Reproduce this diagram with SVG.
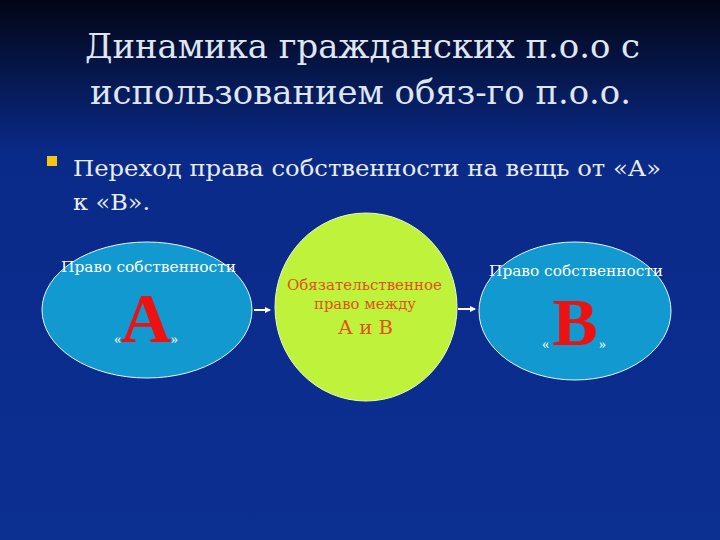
<svg xmlns="http://www.w3.org/2000/svg" width="720" height="540" viewBox="0 0 720 540">
<defs>
<linearGradient id="bg" x1="0" y1="0" x2="0" y2="1">
<stop offset="0" stop-color="#020514"/>
<stop offset="0.28" stop-color="#0a2a88"/>
<stop offset="1" stop-color="#0c2f92"/>
</linearGradient>
<marker id="ah" markerWidth="6" markerHeight="6" refX="5" refY="3" orient="auto" markerUnits="userSpaceOnUse">
<path d="M0,0 L6,3 L0,6 z" fill="#ffffff"/>
</marker>
<style>
.t{font-family:"DejaVu Serif","Liberation Serif",serif;}
.lbl{font-family:"DejaVu Serif","Liberation Serif",serif;font-size:14px;fill:#ffffff;}
.big{font-family:"Liberation Serif","DejaVu Serif",serif;font-weight:bold;fill:#ee1111;text-anchor:middle;}
.q{font-family:"Liberation Serif",serif;font-size:14px;fill:#ffffff;}
.g{font-family:"DejaVu Serif","Liberation Serif",serif;fill:#e0521a;}
.ell{fill:#1199d0;stroke:#e8f4ff;stroke-width:1;}
.conn{stroke:#ffffff;stroke-width:2;fill:none;}
</style>
</defs>
<rect x="0" y="0" width="720" height="540" fill="url(#bg)"/>
<g id="title" class="t" fill="#dfe6f2" font-size="34">
<text x="85" y="58" textLength="555" lengthAdjust="spacingAndGlyphs">Динамика гражданских п.о.о с</text>
<text x="90" y="104" textLength="541" lengthAdjust="spacingAndGlyphs">использованием обяз-го п.о.о.</text>
</g>
<g id="bullet">
<rect x="47" y="156" width="10" height="10" fill="#f5c518"/>
<text class="t" x="73" y="176" font-size="23" fill="#e8ecf6" textLength="588" lengthAdjust="spacingAndGlyphs">Переход права собственности на вещь от «А»</text>
<text class="t" x="73" y="210" font-size="23" fill="#e8ecf6" textLength="77" lengthAdjust="spacingAndGlyphs">к «В».</text>
</g>
<g id="connectors">
<line class="conn" x1="254" y1="310" x2="270" y2="310" marker-end="url(#ah)"/>
<line class="conn" x1="458" y1="309" x2="475" y2="309" marker-end="url(#ah)"/>
</g>
<g id="nodeA">
<ellipse class="ell" cx="147" cy="310" rx="105" ry="68"/>
<text class="lbl" x="61" y="272" textLength="175" lengthAdjust="spacingAndGlyphs">Право собственности</text>
<text class="big" x="146" y="342" font-size="70">А</text>
<text class="q" x="114" y="344">«</text>
<text class="q" x="171" y="344">»</text>
</g>
<g id="nodeAB">
<ellipse cx="366" cy="307" rx="91" ry="94" fill="#bff23a" stroke="#e8f8c8" stroke-width="1"/>
<text class="g" x="287" y="290" font-size="14" textLength="155" lengthAdjust="spacingAndGlyphs">Обязательственное</text>
<text class="g" x="314" y="309" font-size="14" textLength="102" lengthAdjust="spacingAndGlyphs">право между</text>
<text class="g" x="338" y="334" font-size="18" textLength="55" lengthAdjust="spacingAndGlyphs">А и В</text>
</g>
<g id="nodeB">
<ellipse class="ell" cx="575" cy="311" rx="96" ry="69"/>
<text class="lbl" x="489" y="276" textLength="174" lengthAdjust="spacingAndGlyphs">Право собственности</text>
<text class="big" x="575" y="345" font-size="68">В</text>
<text class="q" x="542" y="349">«</text>
<text class="q" x="599" y="349">»</text>
</g>
</svg>
